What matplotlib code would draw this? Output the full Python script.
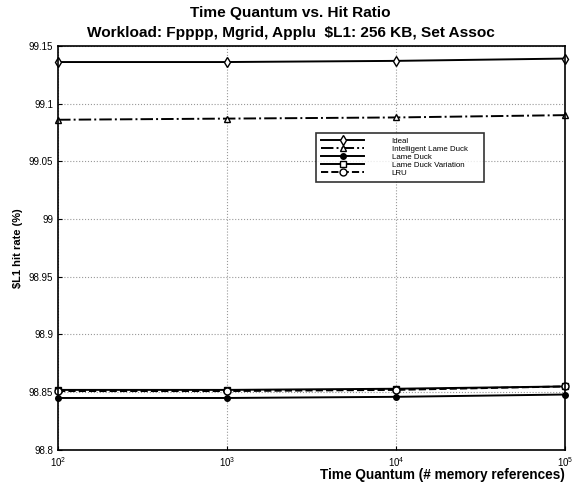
import matplotlib
matplotlib.use("Agg")
import matplotlib.pyplot as plt

plt.rcParams['font.family'] = ['Liberation Sans', 'DejaVu Sans']

quantum = [1e2, 1e3, 1e4, 1e5]
ideal = [99.136, 99.136, 99.137, 99.139]
intelligent_ld = [99.086, 99.087, 99.088, 99.090]
lame_duck = [98.845, 98.845, 98.846, 98.848]
ld_variation = [98.852, 98.852, 98.853, 98.855]
lru = [98.851, 98.851, 98.852, 98.855]

series = [
    ("Ideal", ideal, '-', 'd', 'white'),
    ("Intelligent Lame Duck", intelligent_ld, '-.', '^', 'white'),
    ("Lame Duck", lame_duck, '-', 'o', 'black'),
    ("Lame Duck Variation", ld_variation, '-', 's', 'white'),
    ("LRU", lru, '--', 'o', 'white'),
]

fig = plt.figure(figsize=(5.81, 4.88), dpi=100)
ax = fig.add_axes([0.1, 0.078, 0.872, 0.828])

for name, vals, ls, mk, mfc in series:
    ms = 4 if mk == 'o' and mfc == 'black' else 5
    ax.plot(quantum, vals, linestyle=ls, marker=mk, color='black', markerfacecolor=mfc,
            markeredgecolor='black', markersize=ms, linewidth=1.4, label=name, clip_on=False)

ax.set_xscale('log')
ax.set_xlim(1e2, 1e5)
ax.set_ylim(98.8, 99.15)
ax.set_yticks([98.8, 98.85, 98.9, 98.95, 99, 99.05, 99.1, 99.15])
ax.set_yticklabels(['98.8', '98.85', '98.9', '98.95', '99', '99.05', '99.1', '99.15'])
ax.minorticks_off()
ax.grid(True, linestyle=':', color='#999999', linewidth=0.8)
ax.tick_params(labelsize=7, direction='in', length=3)
for s in ax.spines.values():
    s.set_linewidth(1.2)

ax.set_ylabel('$L1 hit rate (%)', fontsize=8, fontweight='bold', labelpad=4)
fig.text(0.972, 0.012, 'Time Quantum (# memory references)', ha='right', va='bottom',
         fontsize=9.8, fontweight='bold')
fig.text(0.5, 0.974, 'Time Quantum vs. Hit Ratio', ha='center', va='center',
         fontsize=11.1, fontweight='bold')
fig.text(0.5, 0.932, 'Workload: Fpppp, Mgrid, Applu  $L1: 256 KB, Set Assoc', ha='center',
         va='center', fontsize=11.1, fontweight='bold')

leg = ax.legend(loc='upper left', bbox_to_anchor=(0.51, 0.5, 0.331, 0.285), mode='expand',
                fontsize=5.7, frameon=True, fancybox=False, edgecolor='black',
                handlelength=5.4, labelspacing=0.05, borderpad=0.6, handletextpad=3.5,
                borderaxespad=0)
leg.get_frame().set_linewidth(1.2)

fig.savefig('out.png', dpi=100)
